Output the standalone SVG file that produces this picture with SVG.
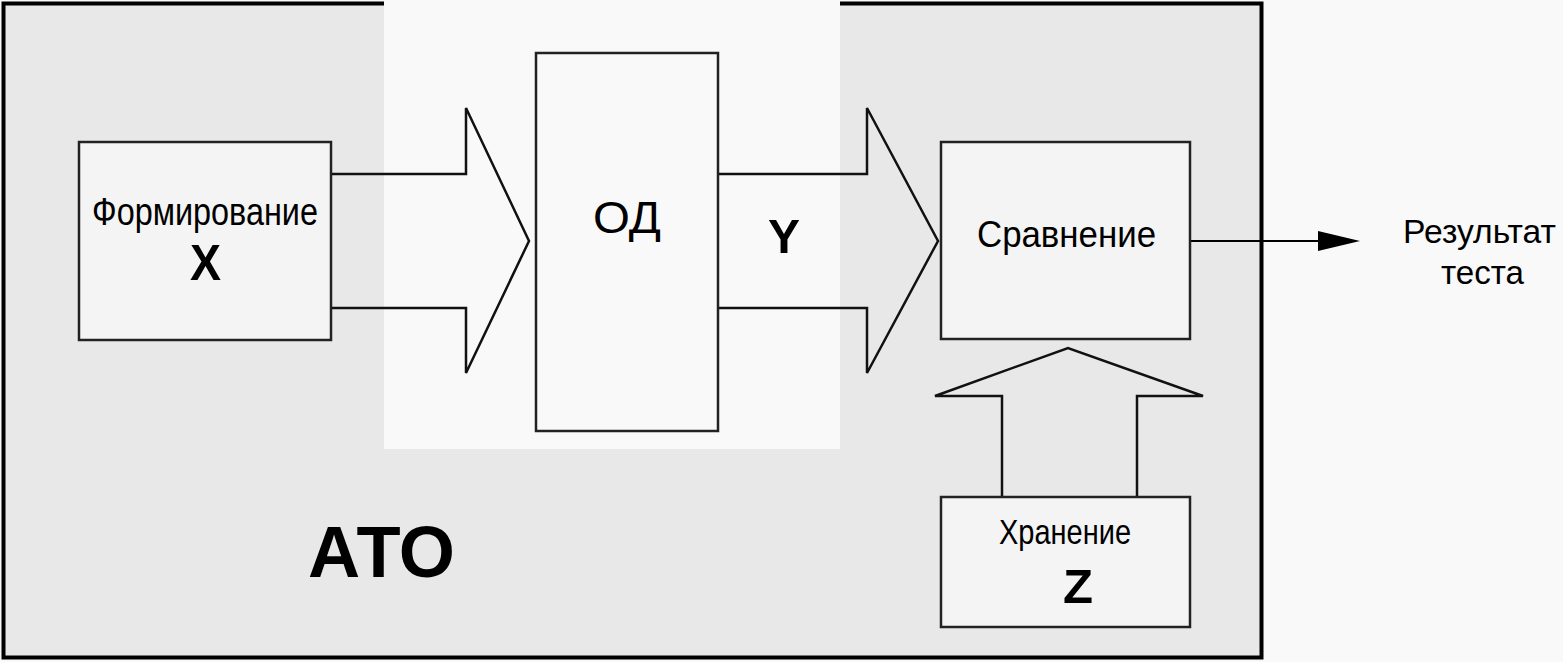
<svg xmlns="http://www.w3.org/2000/svg" width="1563" height="662" viewBox="0 0 1563 662">
<style>
.box{fill:#f4f4f4;stroke:#222;stroke-width:2.5}
.arr{fill:none;stroke:#111;stroke-width:2.5;stroke-linejoin:miter}
.t{font-family:"Liberation Sans",Arial,sans-serif;fill:#000}
.b{font-weight:bold}
</style>
<rect width="1563" height="662" fill="#f9f9f9"/>
<g id="ato">
<rect x="3.5" y="3.5" width="1258" height="654" fill="#e8e8e8" stroke="#000" stroke-width="4"/>
<rect x="384" y="0" width="456" height="449" fill="#f9f9f9"/>
<text class="t b" x="308" y="577" font-size="73" textLength="147" lengthAdjust="spacingAndGlyphs">АТО</text>
</g>
<g id="connectors">
<path class="arr" d="M331,174 H466 V108 L529,241 L466,373 V308 H331"/>
<path class="arr" d="M718,174 H867 V108 L938,241 L867,373 V308 H718"/>
<path class="arr" d="M1002,497 V396 H935 L1068,348 L1203,396 H1137 V497"/>
<line x1="1190" y1="241" x2="1320" y2="241" stroke="#000" stroke-width="2"/>
<path d="M1318,231 L1360,241 L1318,251 z" fill="#000"/>
</g>
<g id="form">
<rect class="box" x="79" y="142" width="252" height="198"/>
<text class="t" x="92" y="225" font-size="38" textLength="226" lengthAdjust="spacingAndGlyphs">Формирование</text>
<text class="t b" x="190" y="280" font-size="50" textLength="31" lengthAdjust="spacingAndGlyphs">X</text>
</g>
<g id="od">
<rect class="box" x="536" y="53" width="182" height="378" style="fill:#f9f9f9"/>
<text class="t" x="593" y="233" font-size="45" textLength="68" lengthAdjust="spacingAndGlyphs">ОД</text>
</g>
<text class="t b" x="768" y="253" font-size="49" textLength="32" lengthAdjust="spacingAndGlyphs">Y</text>
<g id="compare">
<rect class="box" x="941" y="142" width="249" height="197"/>
<text class="t" x="977" y="247" font-size="37" textLength="179" lengthAdjust="spacingAndGlyphs">Сравнение</text>
</g>
<g id="store">
<rect class="box" x="941" y="497" width="249" height="130"/>
<text class="t" x="999" y="544" font-size="35" textLength="132" lengthAdjust="spacingAndGlyphs">Хранение</text>
<text class="t b" x="1063" y="603" font-size="48" textLength="30" lengthAdjust="spacingAndGlyphs">Z</text>
</g>
<g id="result">
<text class="t" x="1403" y="243" font-size="34" textLength="153" lengthAdjust="spacingAndGlyphs">Результат</text>
<text class="t" x="1441" y="284" font-size="34" textLength="83" lengthAdjust="spacingAndGlyphs">теста</text>
</g>
</svg>
